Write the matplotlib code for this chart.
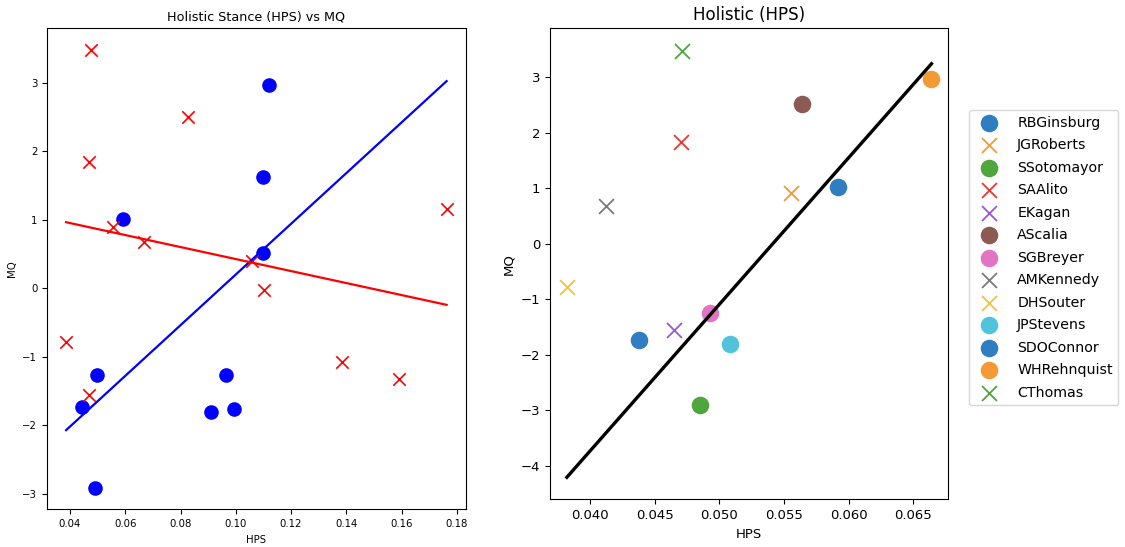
import matplotlib
matplotlib.use('Agg')
from matplotlib.pyplot import figure, savefig
from numpy import array, polyfit, poly1d, linspace, concatenate

# Left panel: holistic stance vs MQ
blue_hps = [0.112, 0.110, 0.0593, 0.110, 0.0497, 0.0442, 0.0489, 0.0910, 0.0964, 0.0993]
blue_mq = [2.97, 1.62, 1.02, 0.52, -1.26, -1.74, -2.92, -1.81, -1.26, -1.76]
red_hps = [0.0475, 0.0470, 0.0826, 0.0557, 0.0668, 0.1057, 0.1763, 0.1102, 0.0386, 0.0470, 0.1385, 0.1589]
red_mq = [3.49, 1.85, 2.51, 0.90, 0.68, 0.40, 1.16, -0.03, -0.78, -1.56, -1.07, -1.32]

# Right panel: one point per justice
justices = ['RBGinsburg', 'JGRoberts', 'SSotomayor', 'SAAlito', 'EKagan', 'AScalia', 'SGBreyer',
            'AMKennedy', 'DHSouter', 'JPStevens', 'SDOConnor', 'WHRehnquist', 'CThomas']
j_hps = [0.0592, 0.0555, 0.0485, 0.0470, 0.0465, 0.0564, 0.0493,
         0.0412, 0.0382, 0.0508, 0.0438, 0.0664, 0.0471]
j_mq = [1.03, 0.91, -2.91, 1.84, -1.55, 2.52, -1.245,
        0.685, -0.77, -1.80, -1.73, 2.96, 3.48]
j_marker = ['o', 'x', 'o', 'x', 'x', 'o', 'o', 'x', 'x', 'o', 'o', 'o', 'x']

# palette as it shows in the picture (tab10-like, a bit brighter)
palette = ['#2f7ec2', '#f39a34', '#4ea63c', '#e83a32', '#9a55dd', '#8c5a52',
           '#e274c4', '#7a7a7a', '#f0c43a', '#52c3da']

fig = figure(figsize=(11.25, 5.47), dpi=100)

# ---- left
ax = fig.add_axes([0.0418, 0.0689, 0.3724, 0.8793])
ax.scatter(blue_hps, blue_mq, c='blue', marker='o', s=90)
ax.scatter(red_hps, red_mq, c='red', marker='x', s=80, linewidths=1.2)

all_x = concatenate([blue_hps, red_hps])
dom = linspace(all_x.min(), all_x.max())
ax.plot(dom, poly1d(polyfit(blue_hps, blue_mq, 1))(dom), color='blue', lw=1.6)
ax.plot(dom, poly1d(polyfit(red_hps, red_mq, 1))(dom), color='red', lw=1.6)

ax.set_xlim(0.0317, 0.1833)
ax.set_ylim(-3.23, 3.80)
ax.set_xticks([0.04, 0.06, 0.08, 0.10, 0.12, 0.14, 0.16, 0.18])
ax.set_yticks([-3, -2, -1, 0, 1, 2, 3])
ax.tick_params(labelsize=7.3)
ax.set_title('Holistic Stance (HPS) vs MQ', fontsize=9.2)
ax.set_xlabel('HPS', fontsize=7.3)
ax.set_ylabel('MQ', fontsize=7.3)

# ---- right
ax2 = fig.add_axes([0.4889, 0.0872, 0.3538, 0.861])
for i, name in enumerate(justices):
    m = j_marker[i]
    if m == 'o':
        ax2.scatter(j_hps[i], j_mq[i], color=palette[i % 10], marker='o', s=135, label=name)
    else:
        ax2.scatter(j_hps[i], j_mq[i], color=palette[i % 10], marker='x', s=115,
                    linewidths=1.3, label=name)

circ_x = array([x for x, m in zip(j_hps, j_marker) if m == 'o'])
circ_y = array([y for y, m in zip(j_mq, j_marker) if m == 'o'])
dom2 = linspace(min(j_hps), max(j_hps))
ax2.plot(dom2, poly1d(polyfit(circ_x, circ_y, 1))(dom2), color='black', lw=2.4)

ax2.set_xlim(0.0369, 0.06768)
ax2.set_ylim(-4.6, 3.88)
ax2.set_xticks([0.040, 0.045, 0.050, 0.055, 0.060, 0.065])
ax2.set_yticks([-4, -3, -2, -1, 0, 1, 2, 3])
ax2.tick_params(labelsize=9.5)
ax2.set_title('Holistic (HPS)', fontsize=12)
ax2.set_xlabel('HPS', fontsize=9.5)
ax2.set_ylabel('MQ', fontsize=9.5)

fig.legend(loc='upper left', bbox_to_anchor=(0.8613, 0.7989), borderaxespad=0,
           fontsize=10.2, labelspacing=0.6, borderpad=0.4, handletextpad=1.0)

savefig('out.png', dpi=100)
